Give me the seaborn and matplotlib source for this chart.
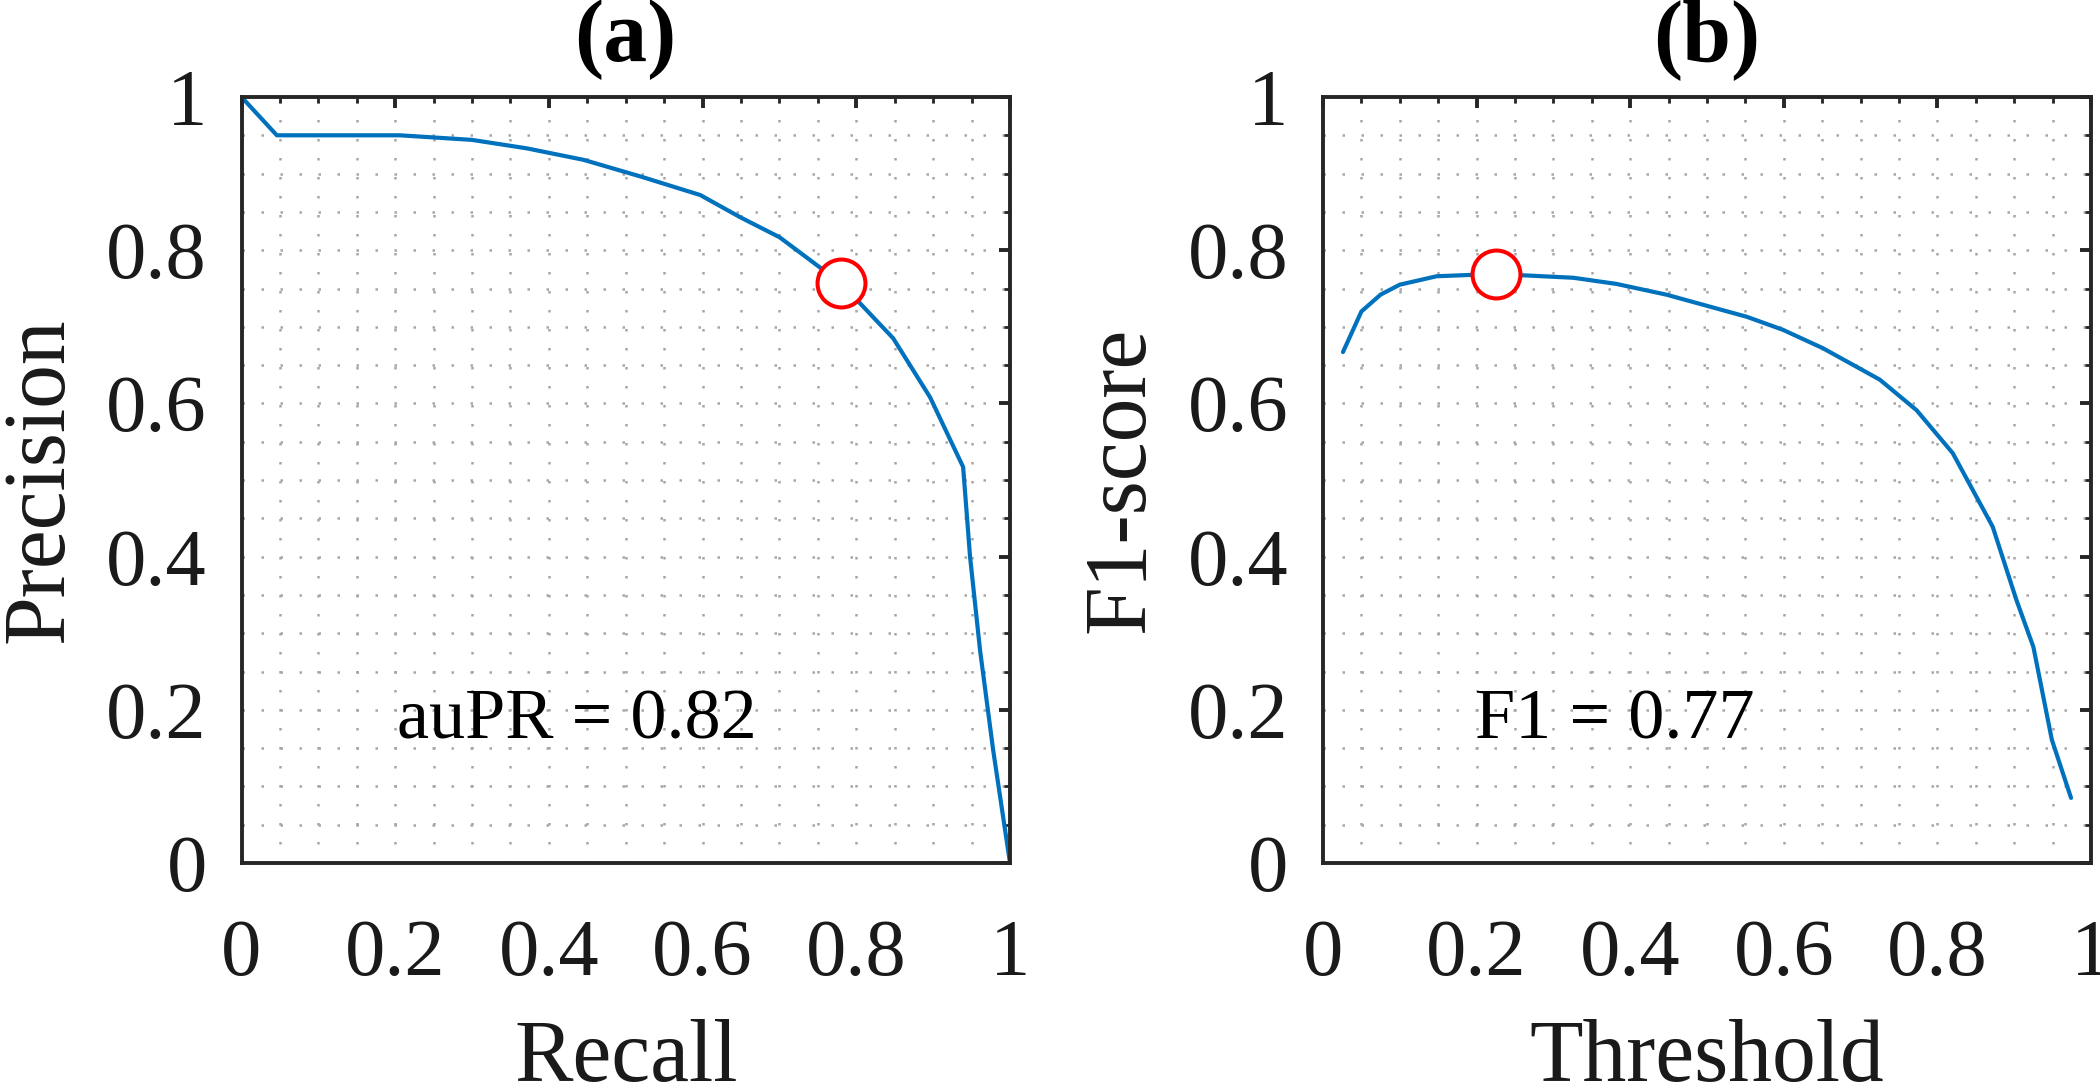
import matplotlib
matplotlib.use("Agg")
import matplotlib.pyplot as plt
import seaborn as sns
import pandas as pd
from matplotlib.ticker import MultipleLocator

# ---- data ----
recall = [0.0, 0.046, 0.10, 0.206, 0.30, 0.371, 0.445, 0.52, 0.597, 0.649, 0.70,
          0.78, 0.848, 0.896, 0.939, 0.948, 0.961, 0.978, 1.0]
precision = [1.0, 0.950, 0.950, 0.950, 0.944, 0.933, 0.918, 0.896, 0.872, 0.843, 0.817,
             0.757, 0.685, 0.608, 0.517, 0.40, 0.278, 0.148, 0.0]
best_pr_recall = [0.78]
best_pr_precision = [0.757]

threshold = [0.026, 0.05, 0.075, 0.10, 0.148, 0.225, 0.326, 0.382, 0.447, 0.552, 0.599,
             0.651, 0.725, 0.773, 0.820, 0.872, 0.903, 0.925, 0.949, 0.974]
f1 = [0.667, 0.720, 0.742, 0.755, 0.766, 0.769, 0.764, 0.756, 0.742, 0.713, 0.696,
      0.672, 0.631, 0.591, 0.535, 0.439, 0.343, 0.282, 0.161, 0.085]
best_threshold = [0.225]
best_f1 = [0.769]

titles = ["(a)", "(b)"]
xlabels = ["Recall", "Threshold"]
ylabels = ["Precision", "F1-score"]
annotations = ["auPR = 0.82", "F1 = 0.77"]
tick_values = [0, 0.2, 0.4, 0.6, 0.8, 1]
tick_labels = ["0", "0.2", "0.4", "0.6", "0.8", "1"]

# ---- style ----
sns.set_style("white")
plt.rcParams["font.family"] = ["Liberation Serif", "DejaVu Serif"]

LINE_C = "#0072BD"
AX_C = "#262626"

fig = plt.figure(figsize=(21, 10.88), dpi=100)
ax_l = fig.add_axes([241.5 / 2100, 1 - 863 / 1088, 768.5 / 2100, 766 / 1088])
ax_r = fig.add_axes([1323 / 2100, 1 - 863 / 1088, 768 / 2100, 766 / 1088])

df_pr = pd.DataFrame({"x": recall, "y": precision})
df_f1 = pd.DataFrame({"x": threshold, "y": f1})
df_bpr = pd.DataFrame({"x": best_pr_recall, "y": best_pr_precision})
df_bf1 = pd.DataFrame({"x": best_threshold, "y": best_f1})

annot_x = [0.437, 0.380]

for i, (ax, df, dfb) in enumerate([(ax_l, df_pr, df_bpr), (ax_r, df_f1, df_bf1)]):
    sns.lineplot(data=df, x="x", y="y", ax=ax, color=LINE_C, linewidth=3.0,
                 sort=False, estimator=None, zorder=3)
    sns.scatterplot(data=dfb, x="x", y="y", ax=ax, s=1190, marker="o",
                    color="white", edgecolor="#FF0000", linewidth=2.9, zorder=4)
    ax.set_xlim(0, 1)
    ax.set_ylim(0, 1)
    ax.set_xticks(tick_values)
    ax.set_xticklabels(tick_labels)
    ax.set_yticks(tick_values)
    ax.set_yticklabels(tick_labels)
    ax.xaxis.set_minor_locator(MultipleLocator(0.05))
    ax.yaxis.set_minor_locator(MultipleLocator(0.05))
    ax.grid(True, which="both", color="#a6a6a6", linewidth=1.8,
            linestyle=(0, (1, 6.6)), zorder=0)
    ax.set_axisbelow(True)
    for s in ax.spines.values():
        s.set_visible(True)
        s.set_color(AX_C)
        s.set_linewidth(2.8)
        s.set_zorder(5)
    ax.tick_params(which="major", direction="in", length=8, width=2.8,
                   color=AX_C, top=True, right=True, labelsize=58,
                   labelcolor="#1a1a1a")
    ax.tick_params(axis="x", which="major", pad=40)
    ax.tick_params(axis="y", which="major", pad=25)
    ax.tick_params(which="minor", direction="in", length=4, width=2.0,
                   color=AX_C, top=True, right=True)
    ax.set_xlabel(xlabels[i], fontsize=63, color="#1a1a1a")
    ax.set_ylabel(ylabels[i], fontsize=63, color="#1a1a1a")
    ax.xaxis.label.set_va("baseline")
    ax.xaxis.set_label_coords(0.5, (863 - 1081) / 766)
    ax.yaxis.label.set_va("baseline")
    ax.yaxis.label.set_rotation_mode("anchor")
    ax.yaxis.set_label_coords(-0.2336, 0.5)
    ax.set_title(titles[i], fontsize=63, fontweight="bold", pad=26, color="black")
    ax.text(annot_x[i], 0.163, annotations[i], fontsize=52, ha="center",
            va="baseline", color="black", zorder=6)
    if ax.get_legend() is not None:
        ax.get_legend().remove()

fig.savefig("out.png", dpi=100)
